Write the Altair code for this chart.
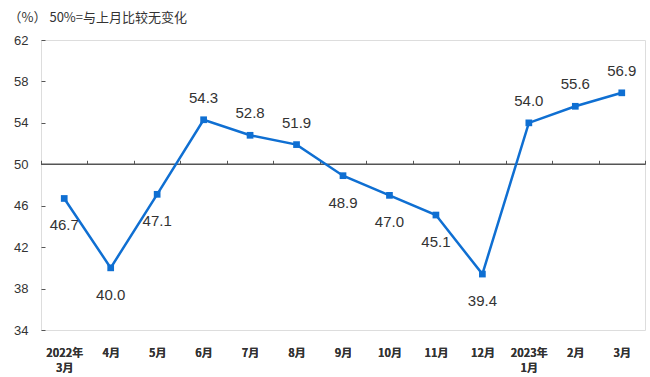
import altair as alt
import pandas as pd

categories = ["2022年\n3月", "4月", "5月", "6月", "7月", "8月", "9月", "10月",
              "11月", "12月", "2023年\n1月", "2月", "3月"]
values = [46.7, 40.0, 47.1, 54.3, 52.8, 51.9, 48.9, 47.0, 45.1, 39.4, 54.0, 55.6, 56.9]
label_side = ["below", "below", "below", "above", "above", "above", "below",
              "below", "below", "below", "above", "above", "above"]
y_ticks = [34, 38, 42, 46, 50, 54, 58, 62]
y_min, y_max, ref_level = 34, 62, 50
title_text = "（%） 50%=与上月比较无变化"

W, H = 604, 290
df = pd.DataFrame({"month": categories, "value": values, "side": label_side})

blue = "#0f6fd2"
x_scale = alt.Scale(domain=categories, paddingInner=0, paddingOuter=0)
y_scale = alt.Scale(domain=[y_min, y_max], nice=False, zero=False)

x_bottom = alt.X("month:N", scale=x_scale, sort=categories, title=None,
                 axis=alt.Axis(orient="bottom", domain=False, ticks=False, tickSize=0,
                               labelAngle=0, labelPadding=17, labelLineHeight=15,
                               labelExpr="split(datum.label, '\\n')",
                               labelFont="Noto Sans CJK SC", labelFontSize=11,
                               labelFontWeight="bold", labelColor="#333"))
y_enc = alt.Y("value:Q", scale=y_scale, title=None,
              axis=alt.Axis(values=y_ticks, domain=False, offset=-4, tickSize=4,
                            tickColor="#555", labelPadding=13,
                            labelFont="Liberation Sans", labelFontSize=13,
                            labelColor="#333", grid=False))

base = alt.Chart(df)
line = base.mark_line(color=blue, strokeWidth=2.5).encode(x=x_bottom, y=y_enc)
pts = base.mark_square(color=blue, size=45, opacity=1).encode(x=x_bottom, y=y_enc)

x_plain = alt.X("month:N", scale=x_scale, sort=categories, axis=None)
lab_above = base.transform_filter(alt.datum.side == "above").mark_text(
    dy=-22, fontSize=15, font="Liberation Sans", color="#333").encode(
    x=x_plain, y=alt.Y("value:Q", scale=y_scale), text=alt.Text("value:Q", format=".1f"))
lab_below = base.transform_filter(alt.datum.side == "below").mark_text(
    dy=27, fontSize=15, font="Liberation Sans", color="#333").encode(
    x=x_plain, y=alt.Y("value:Q", scale=y_scale), text=alt.Text("value:Q", format=".1f"))

ref_rule = alt.Chart(pd.DataFrame({"v": [ref_level]})).mark_rule(
    color="#555", strokeWidth=1.5).encode(y=alt.Y("v:Q", scale=y_scale))

tick_offset = -(y_max - ref_level) / (y_max - y_min) * H
ref_ticks = base.mark_point(opacity=0).encode(
    x=alt.X("month:N", scale=x_scale, sort=categories, title=None,
            axis=alt.Axis(orient="top", offset=tick_offset, labels=False, domain=False,
                          ticks=True, tickSize=4, tickBand="extent",
                          tickColor="#555", tickWidth=1)),
    y=alt.Y("value:Q", scale=y_scale))

chart = alt.layer(ref_rule, ref_ticks, line, pts, lab_above, lab_below).resolve_scale(
    x="independent").properties(
    width=W, height=H,
    title=alt.Title(title_text, anchor="start", dx=-5, offset=9, fontSize=13,
                    font="Noto Sans CJK SC", fontWeight="normal", color="#333"),
    autosize=alt.AutoSizeParams(type="none"),
    padding={"left": 41, "top": 40, "right": 5, "bottom": 47},
).configure_view(stroke="#5a5a5a", strokeWidth=1.5).configure(background="white")

chart.save("out.html", embed_options={"renderer": "svg", "actions": False})
